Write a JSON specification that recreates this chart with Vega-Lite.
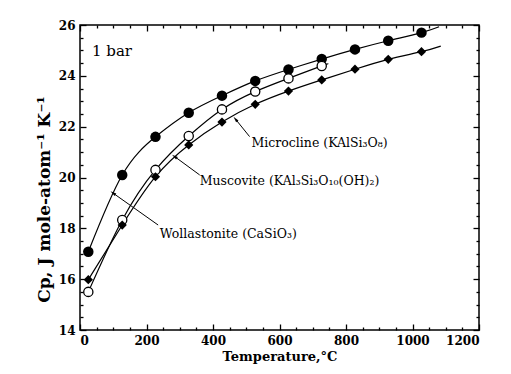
{
  "$schema": "https://vega.github.io/schema/vega-lite/v6.json",
  "width": 399,
  "height": 305,
  "autosize": {"type": "none"},
  "padding": {"left": 80, "top": 25, "right": 32, "bottom": 44},
  "background": "white",
  "config": {
    "view": {"stroke": "black", "strokeWidth": 1.5},
    "axis": {
      "domain": false,
      "grid": false,
      "tickColor": "black",
      "tickWidth": 1.3,
      "labelFont": "DejaVu Serif",
      "labelFontWeight": "bold",
      "labelFontSize": 12,
      "labelColor": "black",
      "titleFont": "DejaVu Serif",
      "titleFontWeight": "bold",
      "titleColor": "black"
    }
  },
  "datasets": {
    "pts": [
      {"mineral": "Microcline", "kind": "measured", "T": 25, "cp": 17.08},
      {"mineral": "Microcline", "kind": "measured", "T": 127, "cp": 20.1},
      {"mineral": "Microcline", "kind": "measured", "T": 227, "cp": 21.6},
      {"mineral": "Microcline", "kind": "measured", "T": 327, "cp": 22.55},
      {"mineral": "Microcline", "kind": "measured", "T": 427, "cp": 23.22},
      {"mineral": "Microcline", "kind": "measured", "T": 527, "cp": 23.8},
      {"mineral": "Microcline", "kind": "measured", "T": 627, "cp": 24.25},
      {"mineral": "Microcline", "kind": "measured", "T": 727, "cp": 24.66},
      {"mineral": "Microcline", "kind": "measured", "T": 827, "cp": 25.04},
      {"mineral": "Microcline", "kind": "measured", "T": 927, "cp": 25.38},
      {"mineral": "Microcline", "kind": "measured", "T": 1027, "cp": 25.7},
      {"mineral": "Microcline", "kind": "curve end", "T": 1080, "cp": 25.93},
      {"mineral": "Muscovite", "kind": "measured", "T": 25, "cp": 15.5},
      {"mineral": "Muscovite", "kind": "measured", "T": 127, "cp": 18.33},
      {"mineral": "Muscovite", "kind": "measured", "T": 227, "cp": 20.3},
      {"mineral": "Muscovite", "kind": "measured", "T": 327, "cp": 21.63},
      {"mineral": "Muscovite", "kind": "measured", "T": 427, "cp": 22.68},
      {"mineral": "Muscovite", "kind": "measured", "T": 527, "cp": 23.38},
      {"mineral": "Muscovite", "kind": "measured", "T": 627, "cp": 23.9},
      {"mineral": "Muscovite", "kind": "measured", "T": 727, "cp": 24.39},
      {"mineral": "Muscovite", "kind": "curve end", "T": 745, "cp": 24.47},
      {"mineral": "Wollastonite", "kind": "measured", "T": 25, "cp": 15.98},
      {"mineral": "Wollastonite", "kind": "measured", "T": 127, "cp": 18.13},
      {"mineral": "Wollastonite", "kind": "measured", "T": 227, "cp": 20.03},
      {"mineral": "Wollastonite", "kind": "measured", "T": 327, "cp": 21.28},
      {"mineral": "Wollastonite", "kind": "measured", "T": 427, "cp": 22.18},
      {"mineral": "Wollastonite", "kind": "measured", "T": 527, "cp": 22.88},
      {"mineral": "Wollastonite", "kind": "measured", "T": 627, "cp": 23.4},
      {"mineral": "Wollastonite", "kind": "measured", "T": 727, "cp": 23.84},
      {"mineral": "Wollastonite", "kind": "measured", "T": 827, "cp": 24.26},
      {"mineral": "Wollastonite", "kind": "measured", "T": 927, "cp": 24.65},
      {"mineral": "Wollastonite", "kind": "measured", "T": 1027, "cp": 24.95},
      {"mineral": "Wollastonite", "kind": "curve end", "T": 1085, "cp": 25.17}
    ],
    "labels": [
      {"mineral": "Microcline", "label": "Microcline (KAlSi₃O₈)", "T": 516, "cp": 21.2, "T1": 510, "cp1": 21.61, "T2": 468, "cp2": 22.29},
      {"mineral": "Muscovite", "label": "Muscovite (KAl₃Si₃O₁₀(OH)₂)", "T": 360, "cp": 19.7, "T1": 360, "cp1": 20.1, "T2": 285, "cp2": 20.82},
      {"mineral": "Wollastonite", "label": "Wollastonite (CaSiO₃)", "T": 240, "cp": 17.62, "T1": 235, "cp1": 18.13, "T2": 100, "cp2": 19.38}
    ],
    "note": [{"label": "1 bar", "T": 36, "cp": 24.78}]
  },
  "resolve": {"axis": {"x": "independent", "y": "independent"}},
  "layer": [
    {
      "data": {"name": "pts"},
      "mark": {"type": "line", "interpolate": "natural", "color": "black", "strokeWidth": 1.2},
      "encoding": {
        "detail": {"field": "mineral"},
        "order": {"field": "T", "type": "quantitative"},
        "x": {"field": "T", "type": "quantitative", "scale": {"domain": [0, 1200], "nice": false},
          "axis": {"orient": "bottom", "values": [0, 200, 400, 600, 800, 1000, 1200], "format": "d", "tickSize": -6, "labelPadding": 11, "title": "Temperature,°C", "titleFontSize": 13, "titlePadding": 4}},
        "y": {"field": "cp", "type": "quantitative", "scale": {"domain": [14, 26], "nice": false, "zero": false},
          "axis": {"orient": "left", "values": [14, 16, 18, 20, 22, 24, 26], "format": "d", "tickSize": -6, "labelPadding": 11, "title": "Cp, J mole-atom⁻¹ K⁻¹", "titleFontSize": 17, "titlePadding": 5, "titleY": 174}}
      }
    },
    {
      "data": {"name": "pts"},
      "transform": [{"filter": "datum.mineral === 'Microcline' && datum.kind === 'measured'"}],
      "mark": {"type": "point", "shape": "circle", "filled": true, "color": "black", "size": 110, "opacity": 1},
      "encoding": {
        "x": {"field": "T", "type": "quantitative", "scale": {"domain": [0, 1200], "nice": false},
          "axis": {"orient": "bottom", "values": [50, 100, 150, 250, 300, 350, 450, 500, 550, 650, 700, 750, 850, 900, 950, 1050, 1100, 1150], "tickSize": -3, "labels": false, "title": null}},
        "y": {"field": "cp", "type": "quantitative", "scale": {"domain": [14, 26], "nice": false, "zero": false},
          "axis": {"orient": "left", "values": [14.5, 15, 15.5, 16.5, 17, 17.5, 18.5, 19, 19.5, 20.5, 21, 21.5, 22.5, 23, 23.5, 24.5, 25, 25.5], "tickSize": -3, "labels": false, "title": null}}
      }
    },
    {
      "data": {"name": "pts"},
      "transform": [{"filter": "datum.mineral === 'Muscovite' && datum.kind === 'measured'"}],
      "mark": {"type": "point", "shape": "circle", "filled": true, "fill": "white", "stroke": "black", "strokeWidth": 1.3, "size": 85, "opacity": 1},
      "encoding": {
        "x": {"field": "T", "type": "quantitative", "scale": {"domain": [0, 1200], "nice": false},
          "axis": {"orient": "top", "values": [0, 200, 400, 600, 800, 1000, 1200], "tickSize": -6, "labels": false, "title": null}},
        "y": {"field": "cp", "type": "quantitative", "scale": {"domain": [14, 26], "nice": false, "zero": false},
          "axis": {"orient": "right", "values": [14, 16, 18, 20, 22, 24, 26], "tickSize": -6, "labels": false, "title": null}}
      }
    },
    {
      "data": {"name": "pts"},
      "transform": [{"filter": "datum.mineral === 'Wollastonite' && datum.kind === 'measured'"}],
      "mark": {"type": "point", "shape": "diamond", "filled": true, "color": "black", "size": 85, "opacity": 1},
      "encoding": {
        "x": {"field": "T", "type": "quantitative", "scale": {"domain": [0, 1200], "nice": false},
          "axis": {"orient": "top", "values": [50, 100, 150, 250, 300, 350, 450, 500, 550, 650, 700, 750, 850, 900, 950, 1050, 1100, 1150], "tickSize": -3, "labels": false, "title": null}},
        "y": {"field": "cp", "type": "quantitative", "scale": {"domain": [14, 26], "nice": false, "zero": false},
          "axis": {"orient": "right", "values": [14.5, 15, 15.5, 16.5, 17, 17.5, 18.5, 19, 19.5, 20.5, 21, 21.5, 22.5, 23, 23.5, 24.5, 25, 25.5], "tickSize": -3, "labels": false, "title": null}}
      }
    },
    {
      "data": {"name": "labels"},
      "mark": {"type": "rule", "color": "black", "strokeWidth": 1},
      "encoding": {
        "x": {"field": "T1", "type": "quantitative", "scale": {"domain": [0, 1200], "nice": false}, "axis": null},
        "y": {"field": "cp1", "type": "quantitative", "scale": {"domain": [14, 26], "nice": false, "zero": false}, "axis": null},
        "x2": {"field": "T2"},
        "y2": {"field": "cp2"}
      }
    },
    {
      "data": {"name": "labels"},
      "transform": [{"filter": "datum.mineral === 'Microcline'"}],
      "mark": {"type": "point", "shape": "M0,-1L0.45,0.8L-0.45,0.8Z", "filled": true, "color": "black", "size": 45, "opacity": 1, "angle": 321},
      "encoding": {
        "x": {"field": "T2", "type": "quantitative", "scale": {"domain": [0, 1200], "nice": false}, "axis": null},
        "y": {"field": "cp2", "type": "quantitative", "scale": {"domain": [14, 26], "nice": false, "zero": false}, "axis": null}
      }
    },
    {
      "data": {"name": "labels"},
      "transform": [{"filter": "datum.mineral === 'Muscovite'"}],
      "mark": {"type": "point", "shape": "M0,-1L0.45,0.8L-0.45,0.8Z", "filled": true, "color": "black", "size": 45, "opacity": 1, "angle": 306},
      "encoding": {
        "x": {"field": "T2", "type": "quantitative", "scale": {"domain": [0, 1200], "nice": false}, "axis": null},
        "y": {"field": "cp2", "type": "quantitative", "scale": {"domain": [14, 26], "nice": false, "zero": false}, "axis": null}
      }
    },
    {
      "data": {"name": "labels"},
      "transform": [{"filter": "datum.mineral === 'Wollastonite'"}],
      "mark": {"type": "point", "shape": "M0,-1L0.45,0.8L-0.45,0.8Z", "filled": true, "color": "black", "size": 45, "opacity": 1, "angle": 305},
      "encoding": {
        "x": {"field": "T2", "type": "quantitative", "scale": {"domain": [0, 1200], "nice": false}, "axis": null},
        "y": {"field": "cp2", "type": "quantitative", "scale": {"domain": [14, 26], "nice": false, "zero": false}, "axis": null}
      }
    },
    {
      "data": {"name": "labels"},
      "mark": {"type": "text", "align": "left", "baseline": "alphabetic", "font": "DejaVu Serif", "fontSize": 12.5, "color": "black"},
      "encoding": {
        "x": {"field": "T", "type": "quantitative", "scale": {"domain": [0, 1200], "nice": false}, "axis": null},
        "y": {"field": "cp", "type": "quantitative", "scale": {"domain": [14, 26], "nice": false, "zero": false}, "axis": null},
        "text": {"field": "label"}
      }
    },
    {
      "data": {"name": "note"},
      "mark": {"type": "text", "align": "left", "baseline": "alphabetic", "font": "DejaVu Serif", "fontSize": 15, "color": "black"},
      "encoding": {
        "x": {"field": "T", "type": "quantitative", "scale": {"domain": [0, 1200], "nice": false}, "axis": null},
        "y": {"field": "cp", "type": "quantitative", "scale": {"domain": [14, 26], "nice": false, "zero": false}, "axis": null},
        "text": {"field": "label"}
      }
    }
  ]
}
